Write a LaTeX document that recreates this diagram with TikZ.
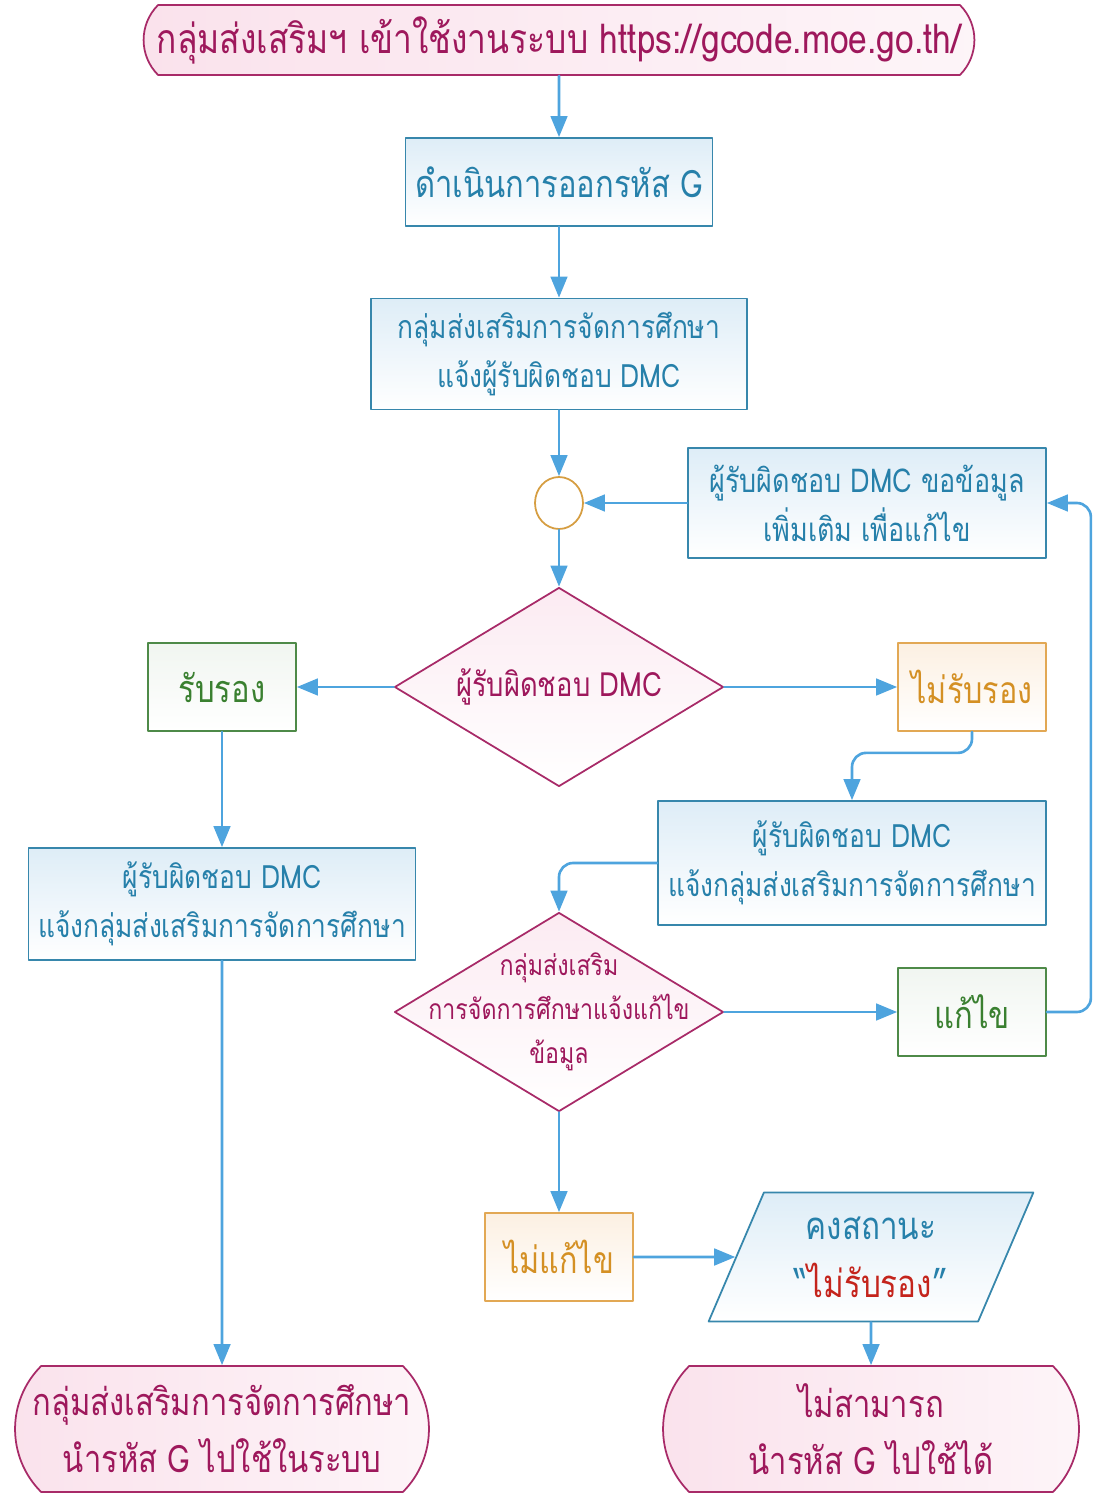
\documentclass[tikz,border=0pt]{standalone}
\usepackage{fontspec}
\setmainfont{Loma}[Script=Thai,FakeStretch=0.82]
\usetikzlibrary{arrows.meta,shapes.geometric,shapes.misc}
\definecolor{flowblue}{RGB}{78,164,222}
\definecolor{boxline}{RGB}{55,135,172}
\definecolor{boxtext}{RGB}{38,128,170}
\definecolor{boxfill}{RGB}{222,237,247}
\definecolor{termline}{RGB}{168,42,104}
\definecolor{termtext}{RGB}{158,24,92}
\definecolor{termfill}{RGB}{250,226,236}
\definecolor{okgreen}{RGB}{58,128,48}
\definecolor{okline}{RGB}{78,138,72}
\definecolor{nogold}{RGB}{212,144,36}
\definecolor{noline}{RGB}{226,168,84}
\definecolor{nofill}{RGB}{252,240,226}
\definecolor{statred}{RGB}{196,36,28}
\definecolor{ringline}{RGB}{214,158,66}

\begin{document}
\begin{tikzpicture}[line cap=round,line join=round,>={Triangle[length=12pt,width=9.5pt]},x=0.02cm,y=-0.02cm,
    flow/.style={->,draw=flowblue,line width=1.5pt},
    procbox/.style={rectangle,draw=boxline,line width=1pt,top color=boxfill,bottom color=white,text=boxtext,align=center,inner sep=2pt,font=\fontsize{18.3}{28}\selectfont},
    term/.style={rounded rectangle,rounded rectangle arc length=90,draw=termline,line width=1pt,left color=termfill,right color=termfill!35,text=termtext,align=center,inner sep=2pt,font=\fontsize{21.5}{32.5}\selectfont},
    decide/.style={diamond,draw=termline,line width=1pt,top color=termfill!70,bottom color=white,inner sep=0pt,minimum width=6.58cm,minimum height=3.98cm},
    decidetext/.style={text=termtext,align=center},
    okbox/.style={rectangle,draw=okline,line width=1pt,top color=okline!8,bottom color=white,text=okgreen,minimum width=2.96cm,minimum height=1.76cm,font=\fontsize{21.5}{24}\selectfont},
    nobox/.style={rectangle,draw=noline,line width=1pt,top color=nofill,bottom color=white,text=nogold,minimum width=2.96cm,minimum height=1.76cm,font=\fontsize{21.2}{24}\selectfont}]
    \useasboundingbox (0,0) rectangle (1094,1493);
    % main column
    \node[term,minimum width=16.76cm,minimum height=1.4cm,font=\fontsize{23.3}{26}\selectfont] (login) at (559,40) {กลุ่มส่งเสริมฯ เข้าใช้งานระบบ https://gcode.moe.go.th/};
    \node[procbox,minimum width=6.14cm,minimum height=1.76cm,font=\fontsize{21.5}{26}\selectfont] (issue) at (559,182) {ดำเนินการออกรหัส G};
    \node[procbox,minimum width=7.52cm,minimum height=2.22cm] (inform) at (559,354) {กลุ่มส่งเสริมการจัดการศึกษา\\แจ้งผู้รับผิดชอบ DMC};
    \node[ellipse,draw=ringline,line width=1pt,fill=white,minimum width=0.96cm,minimum height=1.04cm,inner sep=0pt] (merge) at (559,503) {};
    \node[procbox,minimum width=7.16cm,minimum height=2.2cm,font=\fontsize{18.7}{28}\selectfont] (request) at (867,503) {ผู้รับผิดชอบ DMC ขอข้อมูล\\เพิ่มเติม เพื่อแก้ไข};
    \node[decide,label={[decidetext,font=\fontsize{19}{26}\selectfont]center:ผู้รับผิดชอบ DMC}] (check) at (559,687) {};
    \node[okbox] (cert) at (222,687) {รับรอง};
    \node[nobox] (nocert) at (972,687) {ไม่รับรอง};
    \node[procbox,minimum width=7.76cm,minimum height=2.48cm] (notifyR) at (852,863) {ผู้รับผิดชอบ DMC\\แจ้งกลุ่มส่งเสริมการจัดการศึกษา};
    \node[procbox,minimum width=7.74cm,minimum height=2.24cm] (notifyL) at (222,904) {ผู้รับผิดชอบ DMC\\แจ้งกลุ่มส่งเสริมการจัดการศึกษา};
    \node[decide,label={[decidetext,font=\fontsize{16.1}{25}\selectfont]center:กลุ่มส่งเสริม\\การจัดการศึกษาแจ้งแก้ไข\\ข้อมูล}] (fixq) at (559,1012) {};
    \node[okbox] (fix) at (972,1012) {แก้ไข};
    \node[nobox] (nofix) at (559,1257) {ไม่แก้ไข};
    \node[trapezium,trapezium left angle=64,trapezium right angle=116,trapezium stretches=true,draw=boxline,line width=1pt,top color=boxfill,bottom color=white,text=boxtext,align=center,minimum width=6.5cm,minimum height=2.58cm,inner sep=0pt,font=\fontsize{21.8}{33}\selectfont] (keep) at (871,1257) {คงสถานะ\\“\textcolor{statred}{ไม่รับรอง}”};
    \node[term,minimum width=8.42cm,minimum height=2.52cm] (useG) at (222,1429) {กลุ่มส่งเสริมการจัดการศึกษา\\นำรหัส G ไปใช้ในระบบ};
    \node[term,minimum width=8.46cm,minimum height=2.52cm] (cannot) at (871,1429) {ไม่สามารถ\\นำรหัส G ไปใช้ได้};
    % connectors
    \draw[flow] (login) -- (issue);
    \draw[flow] (issue) -- (inform);
    \draw[flow] (inform) -- (merge);
    \draw[flow] (request) -- (merge);
    \draw[flow] (merge) -- (check);
    \draw[flow] (check) -- (cert);
    \draw[flow] (check) -- (nocert);
    \draw[flow,rounded corners=8pt] (nocert.south) -- ++(0,21) -| (notifyR.north);
    \draw[flow,rounded corners=8pt] (notifyR.west) -| (fixq.north);
    \draw[flow] (cert) -- (notifyL);
    \draw[flow] (notifyL) -- (useG);
    \draw[flow] (fixq) -- (fix);
    \draw[flow,rounded corners=8pt] (fix.east) -- ++(44,0) |- (request.east);
    \draw[flow] (fixq) -- (nofix);
    \draw[flow] (nofix) -- (keep);
    \draw[flow] (keep) -- (cannot);
\end{tikzpicture}
\end{document}
